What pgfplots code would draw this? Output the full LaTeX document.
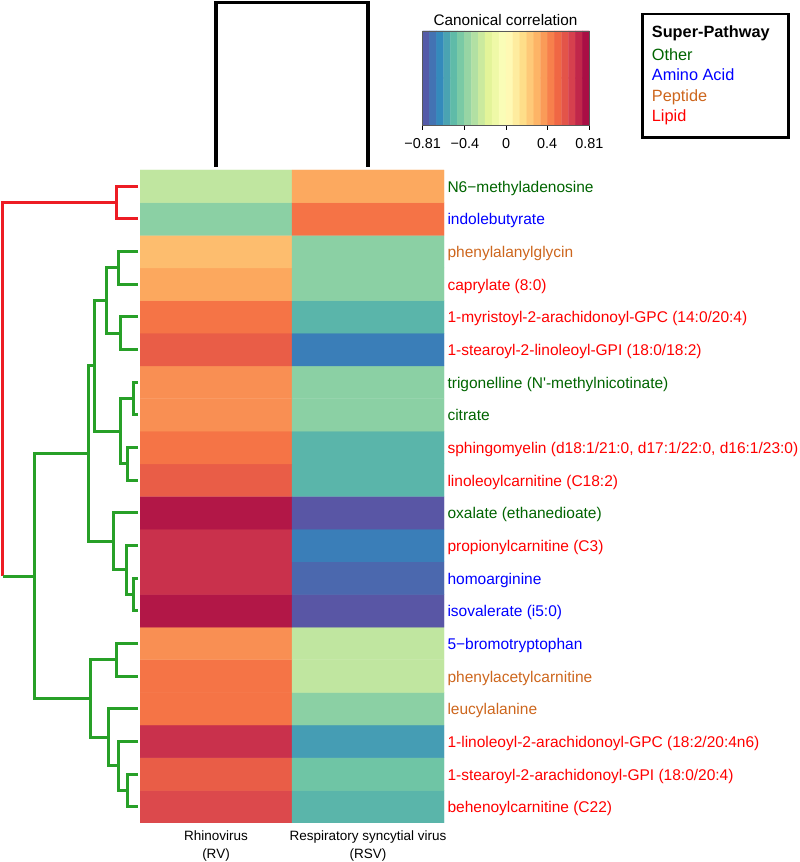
\documentclass[border=0pt]{standalone}
\usepackage{fontspec}
\setmainfont{Liberation Sans}
\usepackage{pgfplots}
\pgfplotsset{compat=1.18}
\definecolor{cOther}{RGB}{0,100,0}
\definecolor{cAmino}{RGB}{0,0,255}
\definecolor{cPeptide}{RGB}{205,102,29}
\definecolor{cLipid}{RGB}{255,0,0}
\definecolor{dgreen}{RGB}{40,160,40}
\definecolor{dred}{RGB}{237,28,36}
\newcommand{\Lp}[1]{\textcolor{cLipid}{#1}}
\newcommand{\Ot}[1]{\textcolor{cOther}{#1}}
\newcommand{\Am}[1]{\textcolor{cAmino}{#1}}
\newcommand{\Pe}[1]{\textcolor{cPeptide}{#1}}
\pgfplotsset{colormap={spectralr}{rgb255=(94,79,162) rgb255=(50,136,189) rgb255=(102,194,165) rgb255=(171,221,164) rgb255=(230,245,152) rgb255=(255,255,191) rgb255=(254,224,139) rgb255=(253,174,97) rgb255=(244,109,67) rgb255=(213,62,79) rgb255=(158,1,66)}}

\pgfplotstableread{
x y c
0 0 0.611
1 0 -0.523
0 1 0.543
1 1 -0.465
0 2 0.684
1 2 -0.588
0 3 0.47
1 3 -0.399
0 4 0.47
1 4 -0.266
0 5 0.402
1 5 -0.266
0 6 0.752
1 6 -0.79
0 7 0.684
1 7 -0.739
0 8 0.684
1 8 -0.677
0 9 0.752
1 9 -0.79
0 10 0.543
1 10 -0.523
0 11 0.47
1 11 -0.523
0 12 0.402
1 12 -0.399
0 13 0.402
1 13 -0.399
0 14 0.543
1 14 -0.677
0 15 0.47
1 15 -0.523
0 16 0.339
1 16 -0.399
0 17 0.275
1 17 -0.399
0 18 -0.399
1 18 0.471
0 19 -0.266
1 19 0.337
}\heat

\pgfplotstableread{
x y
-0.77625 0.25
-0.70875 0.25
-0.64125 0.25
-0.57375 0.25
-0.50625 0.25
-0.43875 0.25
-0.37125 0.25
-0.30375 0.25
-0.23625 0.25
-0.16875 0.25
-0.10125 0.25
-0.03375 0.25
0.03375 0.25
0.10125 0.25
0.16875 0.25
0.23625 0.25
0.30375 0.25
0.37125 0.25
0.43875 0.25
0.50625 0.25
0.57375 0.25
0.64125 0.25
0.70875 0.25
0.77625 0.25
-0.77625 0.75
-0.70875 0.75
-0.64125 0.75
-0.57375 0.75
-0.50625 0.75
-0.43875 0.75
-0.37125 0.75
-0.30375 0.75
-0.23625 0.75
-0.16875 0.75
-0.10125 0.75
-0.03375 0.75
0.03375 0.75
0.10125 0.75
0.16875 0.75
0.23625 0.75
0.30375 0.75
0.37125 0.75
0.43875 0.75
0.50625 0.75
0.57375 0.75
0.64125 0.75
0.70875 0.75
0.77625 0.75
}\cbar

\begin{document}
\begin{tikzpicture}
% ---------- frame axis in pixel units (dendrograms, legend, titles)
\begin{axis}[name=main, at={(0,0)}, anchor=south west,
  width=800pt, height=862pt, scale only axis,
  xmin=0, xmax=800, ymin=0, ymax=862, y dir=reverse,
  hide axis, clip=false]
\coordinate (bbA) at (axis cs:0,862);
\coordinate (bbB) at (axis cs:800,0);
\coordinate (hmSW) at (axis cs:140,823);
\coordinate (cbSW) at (axis cs:422.7,125);
% top dendrogram
\addplot[black, line width=3.5pt] coordinates {(216,166.5) (216,2.3) (368,2.3) (368,166.5)};
% left dendrogram: red part
\addplot[dred, line width=3pt] coordinates {(138,186.33) (116,186.33) (116,218.98) (138,218.98)};
\addplot[dred, line width=3pt] coordinates {(116,202.66) (2.7,202.66) (2.7,576.1)};
% green part
\addplot[dgreen, line width=3pt] coordinates {(2.7,576.1) (34.3,576.1)};
\addplot[dgreen, line width=3pt] coordinates {(138,251.63) (118.7,251.63) (118.7,284.28) (138,284.28)};
\addplot[dgreen, line width=3pt] coordinates {(138,316.93) (120.7,316.93) (120.7,349.58) (138,349.58)};
\addplot[dgreen, line width=3pt] coordinates {(118.7,267.95) (106,267.95) (106,333.25) (120.7,333.25)};
\addplot[dgreen, line width=3pt] coordinates {(138,382.23) (133.3,382.23) (133.3,414.88) (138,414.88)};
\addplot[dgreen, line width=3pt] coordinates {(138,447.53) (127,447.53) (127,480.18) (138,480.18)};
\addplot[dgreen, line width=3pt] coordinates {(133.3,398.55) (120.7,398.55) (120.7,463.85) (127,463.85)};
\addplot[dgreen, line width=3pt] coordinates {(106,300.6) (94.3,300.6) (94.3,431.2) (120.7,431.2)};
\addplot[dgreen, line width=3pt] coordinates {(138,578.13) (133.3,578.13) (133.3,610.78) (138,610.78)};
\addplot[dgreen, line width=3pt] coordinates {(138,545.48) (126,545.48) (126,594.45) (133.3,594.45)};
\addplot[dgreen, line width=3pt] coordinates {(138,512.83) (113.3,512.83) (113.3,569.97) (126,569.97)};
\addplot[dgreen, line width=3pt] coordinates {(94.3,365.9) (88.3,365.9) (88.3,541.4) (113.3,541.4)};
\addplot[dgreen, line width=3pt] coordinates {(138,643.43) (116.7,643.43) (116.7,676.08) (138,676.08)};
\addplot[dgreen, line width=3pt] coordinates {(138,774.03) (127.7,774.03) (127.7,806.68) (138,806.68)};
\addplot[dgreen, line width=3pt] coordinates {(138,741.38) (118.3,741.38) (118.3,790.36) (127.7,790.36)};
\addplot[dgreen, line width=3pt] coordinates {(138,708.73) (108.7,708.73) (108.7,765.87) (118.3,765.87)};
\addplot[dgreen, line width=3pt] coordinates {(116.7,659.76) (90,659.76) (90,737.3) (108.7,737.3)};
\addplot[dgreen, line width=3pt] coordinates {(88.3,453.65) (34.3,453.65) (34.3,698.53) (90,698.53)};
% colour-key title
\node[anchor=base, font=\fontsize{15.3}{18}\selectfont] at (axis cs:505.5,25.4) {Canonical correlation};
% super-pathway legend
\draw[line width=2.5pt] (axis cs:642.3,14) rectangle (axis cs:788.3,137.3);
\node[anchor=base west, inner sep=0pt, font=\fontsize{16.3}{19}\selectfont\bfseries] at (axis cs:651.7,37.5) {Super-Pathway};
\node[anchor=base west, inner sep=0pt, font=\fontsize{16.3}{19}\selectfont, text=cOther] at (axis cs:651.7,60.2) {Other};
\node[anchor=base west, inner sep=0pt, font=\fontsize{16.3}{19}\selectfont, text=cAmino] at (axis cs:651.7,80.9) {Amino Acid};
\node[anchor=base west, inner sep=0pt, font=\fontsize{16.3}{19}\selectfont, text=cPeptide] at (axis cs:651.7,101.6) {Peptide};
\node[anchor=base west, inner sep=0pt, font=\fontsize{16.3}{19}\selectfont, text=cLipid] at (axis cs:651.7,121.6) {Lipid};
\end{axis}

% ---------- heatmap
\begin{axis}[at={(hmSW)}, anchor=south west,
  width=304pt, height=653pt, scale only axis,
  xmin=-0.5, xmax=1.5, ymin=-0.5, ymax=19.5,
  colormap name=spectralr, point meta min=-0.81, point meta max=0.81,
  axis line style={draw=none}, major tick length=0pt, tick style={draw=none},
  xtick={0,1},
  xticklabels={{Rhinovirus\\(RV)},{Respiratory syncytial virus\\(RSV)}},
  xticklabel style={align=center, anchor=north, yshift=-4.3pt, font=\fontsize{13.5}{17.6}\selectfont},
  ytick={0,1,...,19},
  yticklabel pos=right,
  yticklabel style={anchor=base west, yshift=-6pt, font=\fontsize{15.5}{18}\selectfont},
  yticklabels={
    {\Lp{behenoylcarnitine (C22)}},
    {\Lp{1-stearoyl-2-arachidonoyl-GPI (18:0/20:4)}},
    {\Lp{1-linoleoyl-2-arachidonoyl-GPC (18:2/20:4n6)}},
    {\Pe{leucylalanine}},
    {\Pe{phenylacetylcarnitine}},
    {\Am{5−bromotryptophan}},
    {\Am{isovalerate (i5:0)}},
    {\Am{homoarginine}},
    {\Lp{propionylcarnitine (C3)}},
    {\Ot{oxalate (ethanedioate)}},
    {\Lp{linoleoylcarnitine (C18:2)}},
    {\Lp{sphingomyelin (d18:1/21:0, d17:1/22:0, d16:1/23:0)}},
    {\Ot{citrate}},
    {\Ot{trigonelline (N\textquotesingle-methylnicotinate)}},
    {\Lp{1-stearoyl-2-linoleoyl-GPI (18:0/18:2)}},
    {\Lp{1-myristoyl-2-arachidonoyl-GPC (14:0/20:4)}},
    {\Lp{caprylate (8:0)}},
    {\Pe{phenylalanylglycin}},
    {\Am{indolebutyrate}},
    {\Ot{N6−methyladenosine}}
  }]
\addplot[matrix plot*, mesh/cols=2, point meta=explicit] table[x=x, y=y, meta=c] {\heat};
\end{axis}

% ---------- colour key
\begin{axis}[at={(cbSW)}, anchor=south west,
  width=166.6pt, height=94pt, scale only axis,
  xmin=-0.81, xmax=0.81, ymin=0, ymax=1,
  colormap name=spectralr, point meta min=-0.81, point meta max=0.81,
  axis on top,
  ytick=\empty,
  xtick={-0.81,-0.4,0,0.4,0.81},
  xticklabels={−0.81,−0.4,0,0.4,0.81},
  xtick pos=bottom, tick align=outside, major tick length=5pt,
  tick style={black, line width=0.9pt},
  axis line style={draw=black!65, line width=0.8pt},
  xticklabel style={font=\fontsize{14.4}{17}\selectfont, yshift=-5pt}]
\addplot[matrix plot*, mesh/cols=24, point meta=x] table[x=x, y=y] {\cbar};
\end{axis}

\pgfresetboundingbox
\path[use as bounding box] (bbA) rectangle (bbB);
\end{tikzpicture}
\end{document}
